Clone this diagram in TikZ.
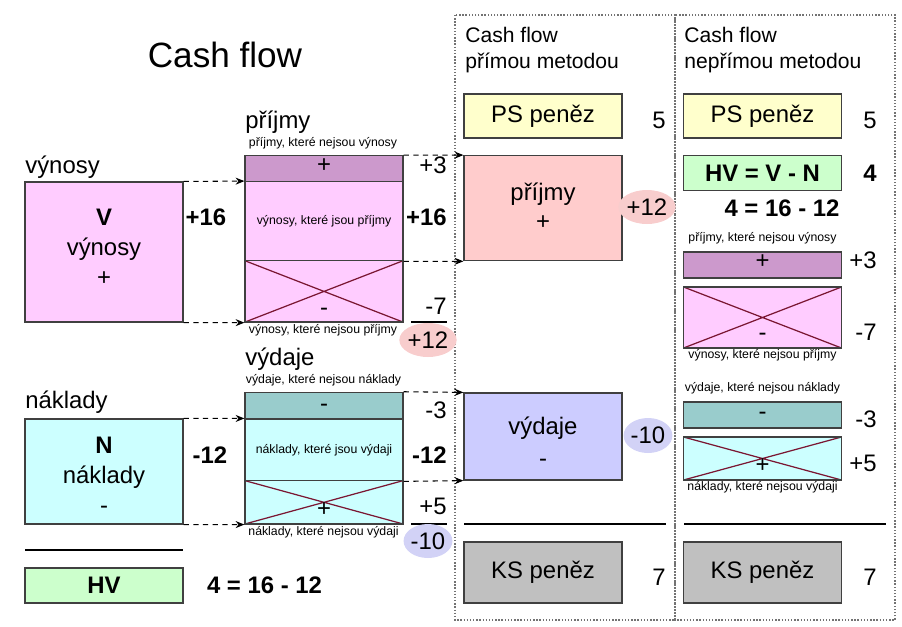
\documentclass[tikz,border=0pt]{standalone}
\usepackage{fontspec}
\setmainfont{Liberation Sans}
\usetikzlibrary{arrows.meta}
\usetikzlibrary{shapes.geometric}

\definecolor{vynpink}{HTML}{FFCCFF}
\definecolor{prijpurple}{HTML}{CC99CC}
\definecolor{vydteal}{HTML}{99CCCC}
\definecolor{naklcyan}{HTML}{CCFFFF}
\definecolor{hvgreen}{HTML}{CCFFCC}
\definecolor{psyellow}{HTML}{FFFFCC}
\definecolor{prijrose}{HTML}{FFCCCC}
\definecolor{vydblue}{HTML}{CCCCFF}
\definecolor{ksgray}{HTML}{C0C0C0}
\definecolor{crossred}{HTML}{7A1632}
\definecolor{ovalrose}{HTML}{F8CDCD}
\definecolor{ovalblue}{HTML}{D2D2F6}

\tikzset{
    box/.style={rectangle,draw=black!75,line width=0.7pt,minimum width=3.16cm,inner sep=0pt,align=center,
        font=\fontsize{13.6}{17}\selectfont},
    crossbox/.style={box,path picture={\draw[crossred,line width=0.7pt]
        (path picture bounding box.north west) -- (path picture bounding box.south east)
        (path picture bounding box.south west) -- (path picture bounding box.north east);}},
    lbl/.style={inner sep=0pt,font=\fontsize{13.6}{17}\selectfont},
    boxtext/.style={lbl,align=center},
    bnum/.style={inner sep=0pt,font=\fontsize{13.6}{17}\selectfont\bfseries},
    tinytext/.style={inner sep=0pt,font=\fontsize{7}{8}\selectfont},
    head/.style={inner sep=0pt,font=\fontsize{12}{14}\selectfont},
    oval/.style={ellipse,inner sep=0pt,minimum width=0.86cm,minimum height=0.68cm,
        font=\fontsize{13.6}{17}\selectfont},
    dashline/.style={draw=black,line width=0.6pt,dash pattern=on 3pt off 2.5pt},
    panel/.style={draw=black!55,line width=0.8pt,densely dotted},
}

\begin{document}
\begin{tikzpicture}[x=0.02cm,y=-0.02cm,>={Stealth[black,length=5pt,width=4pt]}]
\useasboundingbox (0,0) rectangle (902,626);

% panels
\draw[panel] (455,15) rectangle (675,620);
\draw[panel] (675,15) rectangle (895,620);

% left part
\node[inner sep=0pt,font=\fontsize{20}{24}\selectfont,anchor=base] (title) at (225,67) {Cash flow};
\node[lbl,anchor=base west] (lvyn) at (25,173) {výnosy};
\node[box,fill=vynpink,minimum height=2.8cm] (V) at (104,252) {};
\node[boxtext] (Vtxt) at (104,247) {\textbf{V}\\výnosy\\+};
\node[bnum] (v16) at (206,217) {+16};
\node[lbl,anchor=base west] (lnak) at (25,408) {náklady};
\node[box,fill=naklcyan,minimum height=2.1cm] (N) at (104,471.5) {};
\node[boxtext] (Ntxt) at (104,475.5) {\textbf{N}\\náklady\\-};
\node[bnum] (n12) at (210,455) {-12};
\draw[line width=0.6pt] (25,550) -- (183,550);
\node[box,fill=hvgreen,minimum height=0.7cm] (HV) at (104,585.5) {\textbf{HV}};
\node[bnum] (hveq) at (264.5,585) {4 = 16 - 12};

% middle stack: prijmy
\node[lbl,anchor=base west] (lprij) at (245,128) {příjmy};
\node[tinytext] (tpnv) at (323,143) {příjmy, které nejsou výnosy};
\node[box,fill=prijpurple,minimum height=0.52cm] (pnv) at (324,168.7) {};
\node[lbl] at (324,166) {+};
\node[box,fill=vynpink,minimum height=1.58cm,font=\fontsize{7}{8}\selectfont] (vjp) at (324,221.2) {výnosy, které jsou příjmy};
\node[crossbox,fill=vynpink,minimum height=1.226cm] (vnp) at (324,291.4) {};
\node[lbl] at (324,312) {-};
\node[tinytext] (tvnp) at (323,330) {výnosy, které nejsou příjmy};

% middle stack: vydaje
\node[lbl,anchor=base west] (lvyd) at (245,365) {výdaje};
\node[tinytext] (tvnk) at (323.5,380) {výdaje, které nejsou náklady};
\node[box,fill=vydteal,minimum height=0.534cm] (vnk) at (324,405.7) {};
\node[lbl] at (324,407.5) {-};
\node[box,fill=naklcyan,minimum height=1.234cm,font=\fontsize{7}{8}\selectfont] (njv) at (324,449.9) {náklady, které jsou výdaji};
\node[crossbox,fill=naklcyan,minimum height=0.866cm] (nnv) at (324,502.3) {};
\node[lbl] at (324,509.5) {+};
\node[tinytext] (tnnv) at (323.5,532) {náklady, které nejsou výdaji};

% numbers right of the stack
\node[lbl,anchor=east] (m3) at (447,165) {+3};
\node[bnum,anchor=east] (m16) at (447,217) {+16};
\node[lbl,anchor=east] (m7) at (447,306) {-7};
\draw[line width=0.6pt] (411,322) -- (447,322);
\node[oval,fill=ovalrose] (m12) at (428,340) {+12};
\node[lbl,anchor=east] (mm3) at (447,410) {-3};
\node[bnum,anchor=east] (mm12) at (447,455) {-12};
\node[lbl,anchor=east] (mm5) at (447,506) {+5};
\draw[line width=0.6pt] (411,524) -- (447,524);
\node[oval,fill=ovalblue] (mm10) at (428,541) {-10};

% connectors
\draw[dashline,->] (V.north east) -- (vjp.north west);
\draw[dashline,->] (V.south east) -- (vnp.south west);
\draw[dashline,->] (N.north east) -- (njv.north west);
\draw[dashline,->] (N.south east) -- (nnv.south west);

% panel 1: direct method
\node[head,anchor=base west] (h1a) at (465,42) {Cash flow};
\node[head,anchor=base west] (h1b) at (465,68) {přímou metodou};
\node[box,fill=psyellow,minimum height=0.88cm] (ps1) at (543,116) {PS peněz};
\node[lbl,anchor=east] (ps1n) at (666,120) {5};
\node[box,fill=prijrose,minimum height=2.1cm] (prij1) at (543,208.2) {};
\node[boxtext,font=\fontsize{13.6}{16}\selectfont] (prij1txt) at (543,206.2) {příjmy\\+};
\node[oval,fill=ovalrose,minimum width=0.84cm] (prij1n) at (647,207) {+12};
\node[box,fill=vydblue,minimum height=1.74cm] (vyd1) at (543,436.5) {};
\node[boxtext,font=\fontsize{13.6}{18}\selectfont] (vyd1txt) at (543,441.5) {výdaje\\-};
\node[oval,fill=ovalblue,minimum width=0.84cm,minimum height=0.7cm] (vyd1n) at (648,435.5) {-10};
\draw[line width=0.6pt] (464,524) -- (666,524);
\node[box,fill=ksgray,minimum height=1.22cm] (ks1) at (543,572.5) {KS peněz};
\node[lbl,anchor=east] (ks1n) at (666,577) {7};

\draw[dashline,->] (pnv.north east) -- (prij1.north west);
\draw[dashline,->] (vjp.south east) -- (prij1.south west);
\draw[dashline,->] (vnk.north east) -- (vyd1.north west);
\draw[dashline,->] (njv.south east) -- (vyd1.south west);

% panel 2: indirect method
\node[head,anchor=base west] (h2a) at (684,42) {Cash flow};
\node[head,anchor=base west] (h2b) at (684,68) {nepřímou metodou};
\node[box,fill=psyellow,minimum height=0.88cm] (ps2) at (762.5,116) {PS peněz};
\node[lbl,anchor=east] (ps2n) at (877,120) {5};
\node[box,fill=hvgreen,minimum height=0.7cm] (hv2) at (762.5,173.2) {\textbf{HV = V - N}};
\node[bnum,anchor=east] (hv2n) at (877,173) {4};
\node[bnum] (hv2eq) at (782,208) {4 = 16 - 12};
\node[tinytext] (tpnv2) at (762.5,238) {příjmy, které nejsou výnosy};
\node[box,fill=prijpurple,minimum height=0.52cm] (pnv2) at (762.5,265) {};
\node[lbl] at (762.5,262) {+};
\node[lbl,anchor=east] (pnv2n) at (877,260) {+3};
\node[crossbox,fill=vynpink,minimum height=1.22cm] (vnp2) at (762.5,317.5) {};
\node[lbl] at (762.5,337) {-};
\node[lbl,anchor=east] (vnp2n) at (877,332) {-7};
\node[tinytext] (tvnp2) at (762.5,355) {výnosy, které nejsou příjmy};
\node[tinytext] (tvnk2) at (762.5,388) {výdaje, které nejsou náklady};
\node[box,fill=vydteal,minimum height=0.52cm] (vnk2) at (762.5,415) {};
\node[lbl] at (762.5,416) {-};
\node[lbl,anchor=east] (vnk2n) at (877,419) {-3};
\node[crossbox,fill=naklcyan,minimum height=0.86cm] (nnv2) at (762.5,458.5) {};
\node[lbl] at (762.5,466) {+};
\node[lbl,anchor=east] (nnv2n) at (877,463) {+5};
\node[tinytext] (tnnv2) at (762.5,487) {náklady, které nejsou výdaji};
\draw[line width=0.6pt] (684,524) -- (886,524);
\node[box,fill=ksgray,minimum height=1.22cm] (ks2) at (762.5,572.5) {KS peněz};
\node[lbl,anchor=east] (ks2n) at (877,577) {7};

\end{tikzpicture}
\end{document}
